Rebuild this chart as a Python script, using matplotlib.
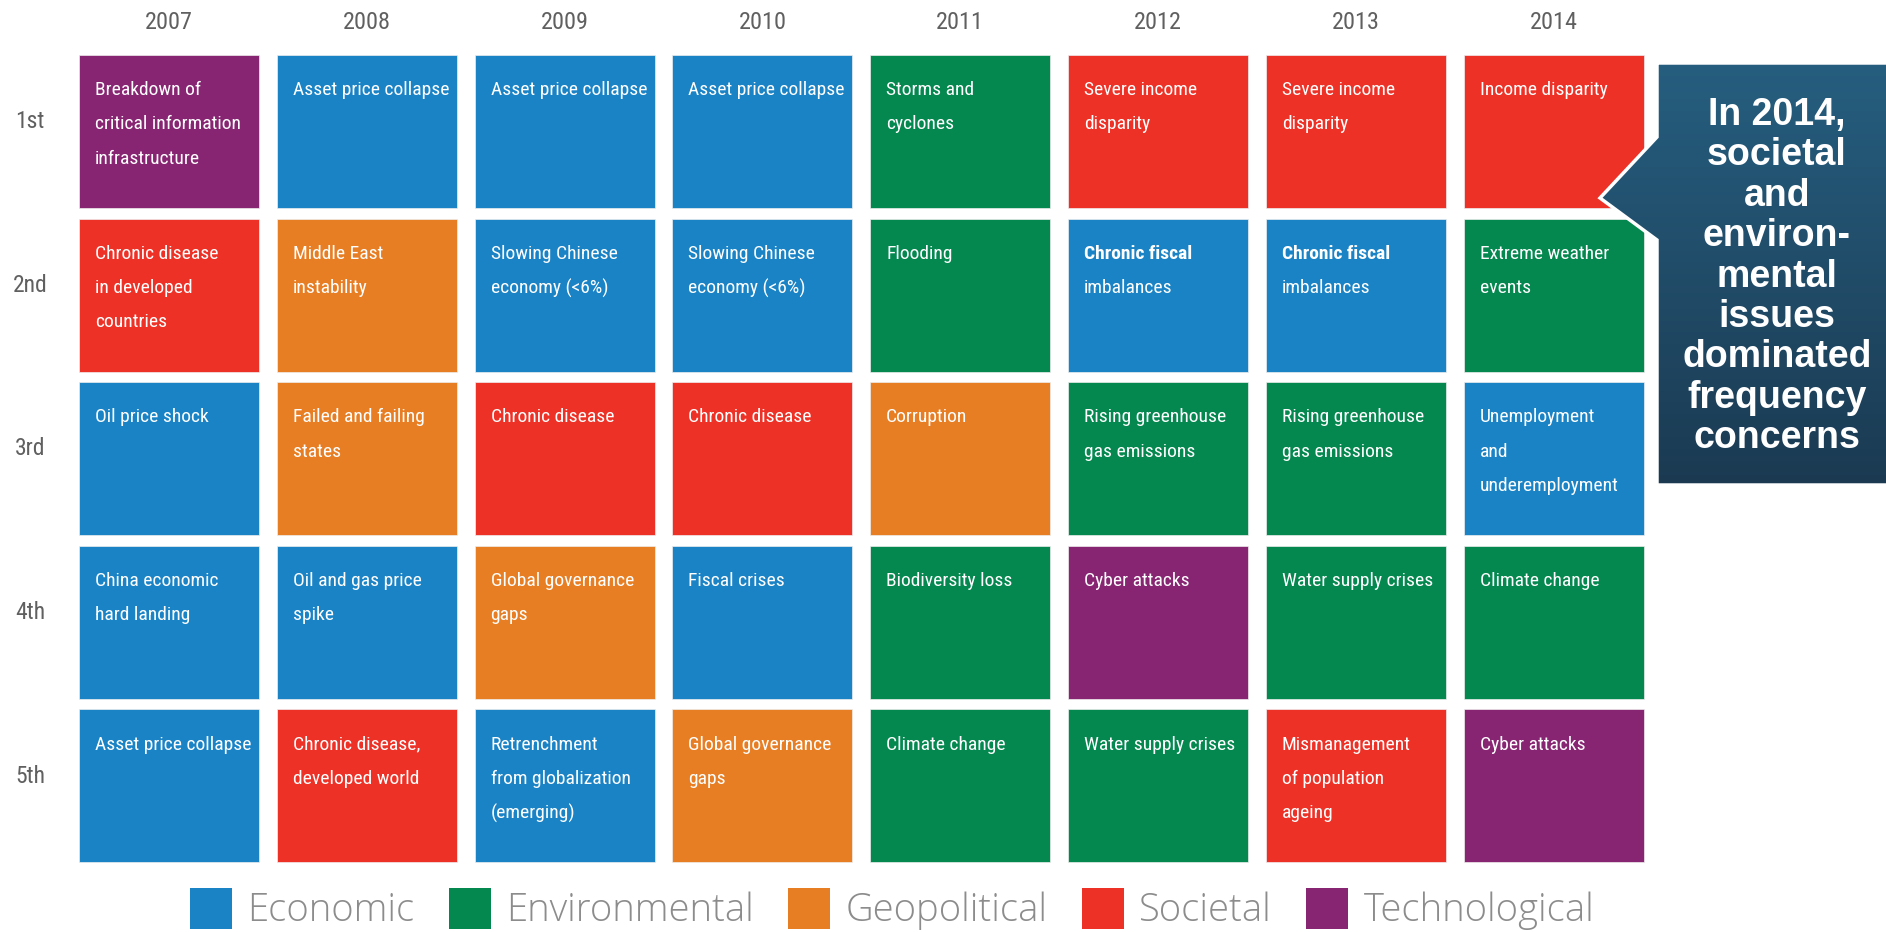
import matplotlib
matplotlib.use('Agg')
import matplotlib.pyplot as plt
from matplotlib.patches import Patch, Polygon
from matplotlib.colors import LinearSegmentedColormap
import numpy as np

# --- data -------------------------------------------------------------
years = ['2007', '2008', '2009', '2010', '2011', '2012', '2013', '2014']
ranks = ['1st', '2nd', '3rd', '4th', '5th']
categories = ['Economic', 'Environmental', 'Geopolitical', 'Societal', 'Technological']
category_colors = ['#1a83c6', '#04884f', '#e87e24', '#ee3126', '#872572']

risks_2007 = ['Breakdown of\ncritical information\ninfrastructure',
              'Chronic disease\nin developed\ncountries',
              'Oil price shock', 'China economic\nhard landing', 'Asset price collapse']
risks_2008 = ['Asset price collapse', 'Middle East\ninstability', 'Failed and failing\nstates',
              'Oil and gas price\nspike', 'Chronic disease,\ndeveloped world']
risks_2009 = ['Asset price collapse', 'Slowing Chinese\neconomy (<6%)', 'Chronic disease',
              'Global governance\ngaps', 'Retrenchment\nfrom globalization\n(emerging)']
risks_2010 = ['Asset price collapse', 'Slowing Chinese\neconomy (<6%)', 'Chronic disease',
              'Fiscal crises', 'Global governance\ngaps']
risks_2011 = ['Storms and\ncyclones', 'Flooding', 'Corruption', 'Biodiversity loss', 'Climate change']
risks_2012 = ['Severe income\ndisparity', 'Chronic fiscal\nimbalances', 'Rising greenhouse\ngas emissions',
              'Cyber attacks', 'Water supply crises']
risks_2013 = ['Severe income\ndisparity', 'Chronic fiscal\nimbalances', 'Rising greenhouse\ngas emissions',
              'Water supply crises', 'Mismanagement\nof population\nageing']
risks_2014 = ['Income disparity', 'Extreme weather\nevents', 'Unemployment\nand\nunderemployment',
              'Climate change', 'Cyber attacks']

types_2007 = ['Technological', 'Societal', 'Economic', 'Economic', 'Economic']
types_2008 = ['Economic', 'Geopolitical', 'Geopolitical', 'Economic', 'Societal']
types_2009 = ['Economic', 'Economic', 'Societal', 'Geopolitical', 'Economic']
types_2010 = ['Economic', 'Economic', 'Societal', 'Economic', 'Geopolitical']
types_2011 = ['Environmental', 'Environmental', 'Geopolitical', 'Environmental', 'Environmental']
types_2012 = ['Societal', 'Economic', 'Environmental', 'Technological', 'Environmental']
types_2013 = ['Societal', 'Economic', 'Environmental', 'Environmental', 'Societal']
types_2014 = ['Societal', 'Environmental', 'Economic', 'Environmental', 'Technological']

risk_labels = [risks_2007, risks_2008, risks_2009, risks_2010,
               risks_2011, risks_2012, risks_2013, risks_2014]
risk_types = [types_2007, types_2008, types_2009, types_2010,
              types_2011, types_2012, types_2013, types_2014]

callout_lines = ['In 2014,', 'societal', 'and', 'environ-', 'mental',
                 'issues', 'dominated', 'frequency', 'concerns']

# --- style ------------------------------------------------------------
cell_font = ['Roboto Condensed', 'Liberation Sans Narrow', 'Open Sans']
bold_first_line = {(5, 1), (6, 1)}
cell_w, cell_h = 0.91, 0.935

W, H = 1886, 932
fig = plt.figure(figsize=(W / 100, H / 100), dpi=100)
fig.patch.set_facecolor('white')

ax = fig.add_axes([0.0372, 0.0689, 0.839, 0.8778])
ax.set_xlim(-0.5, len(years) - 0.5)
ax.set_ylim(len(ranks) - 0.5, -0.5)
ax.axis('off')

cols = np.arange(len(years))
for r in range(len(ranks)):
    colors = [category_colors[categories.index(risk_types[c][r])] for c in cols]
    ax.bar(cols, cell_h, bottom=r - cell_h / 2, width=cell_w, color=colors,
           edgecolor='#eeeeee', linewidth=0.5)

# cell labels
for c in cols:
    for r in range(len(ranks)):
        lines = risk_labels[c][r].split('\n')
        for k, line in enumerate(lines):
            weight = 'bold' if ((c, r) in bold_first_line and k == 0) else 'normal'
            ax.annotate(line, xy=(c - cell_w / 2, r - cell_h / 2),
                        xytext=(11.5, -(25.3 + 24.7 * k)), textcoords='offset points',
                        ha='left', va='center', color='white', fontsize=14,
                        family=cell_font, fontweight=weight)

# year headers and rank labels
for c, yr in enumerate(years):
    ax.annotate(yr, xy=(c, -cell_h / 2), xytext=(0, 23.5), textcoords='offset points',
                ha='center', va='center', color='#606060', fontsize=17.5, family=cell_font)
for r, rk in enumerate(ranks):
    ax.annotate(rk, xy=(-0.5, r - 0.06), xytext=(-29, 0), textcoords='offset points',
                ha='center', va='center', color='#606060', fontsize=17, family=cell_font)

# --- callout ----------------------------------------------------------
ov = fig.add_axes([0, 0, 1, 1], zorder=5)
ov.set_xlim(0, W)
ov.set_ylim(H, 0)
ov.axis('off')
ov.patch.set_alpha(0)

shape = [(1657, 63), (1890, 63), (1890, 485), (1657, 485),
         (1657, 240), (1600, 198), (1657, 137)]
poly = Polygon(shape, closed=True, facecolor='none', edgecolor='none')
ov.add_patch(poly)
grad_cmap = LinearSegmentedColormap.from_list('callout', ['#265e7f', '#1b3a52'])
img = ov.imshow(np.linspace(0, 1, 256).reshape(-1, 1), cmap=grad_cmap, origin='upper',
                extent=(1595, 1890, 485, 63), aspect='auto', zorder=6)
img.set_clip_path(poly)
ov.add_patch(Polygon(shape, closed=True, facecolor='none', edgecolor='white',
                     linewidth=2.5, zorder=7))
ov.set_xlim(0, W)
ov.set_ylim(H, 0)

for k, line in enumerate(callout_lines):
    ov.text(1777, 115 + 40.4 * k, line, ha='center', va='center', color='white',
            fontsize=27, fontweight='bold', family=['Liberation Sans', 'DejaVu Sans'], zorder=8)

# --- legend -----------------------------------------------------------
handles = [Patch(facecolor=col, edgecolor='none', label=name)
           for name, col in zip(categories, category_colors)]
fig.legend(handles=handles, loc='center', bbox_to_anchor=(0.473, 0.0245), ncol=5,
           frameon=False, handlelength=1.1, handleheight=1.25, handletextpad=0.4,
           columnspacing=0.9, borderpad=0, labelcolor='#8c8c8c',
           prop={'family': ['Open Sans', 'DejaVu Sans'], 'size': 27.5, 'weight': 'light'})

fig.savefig('out.png', dpi=100, facecolor='white')
